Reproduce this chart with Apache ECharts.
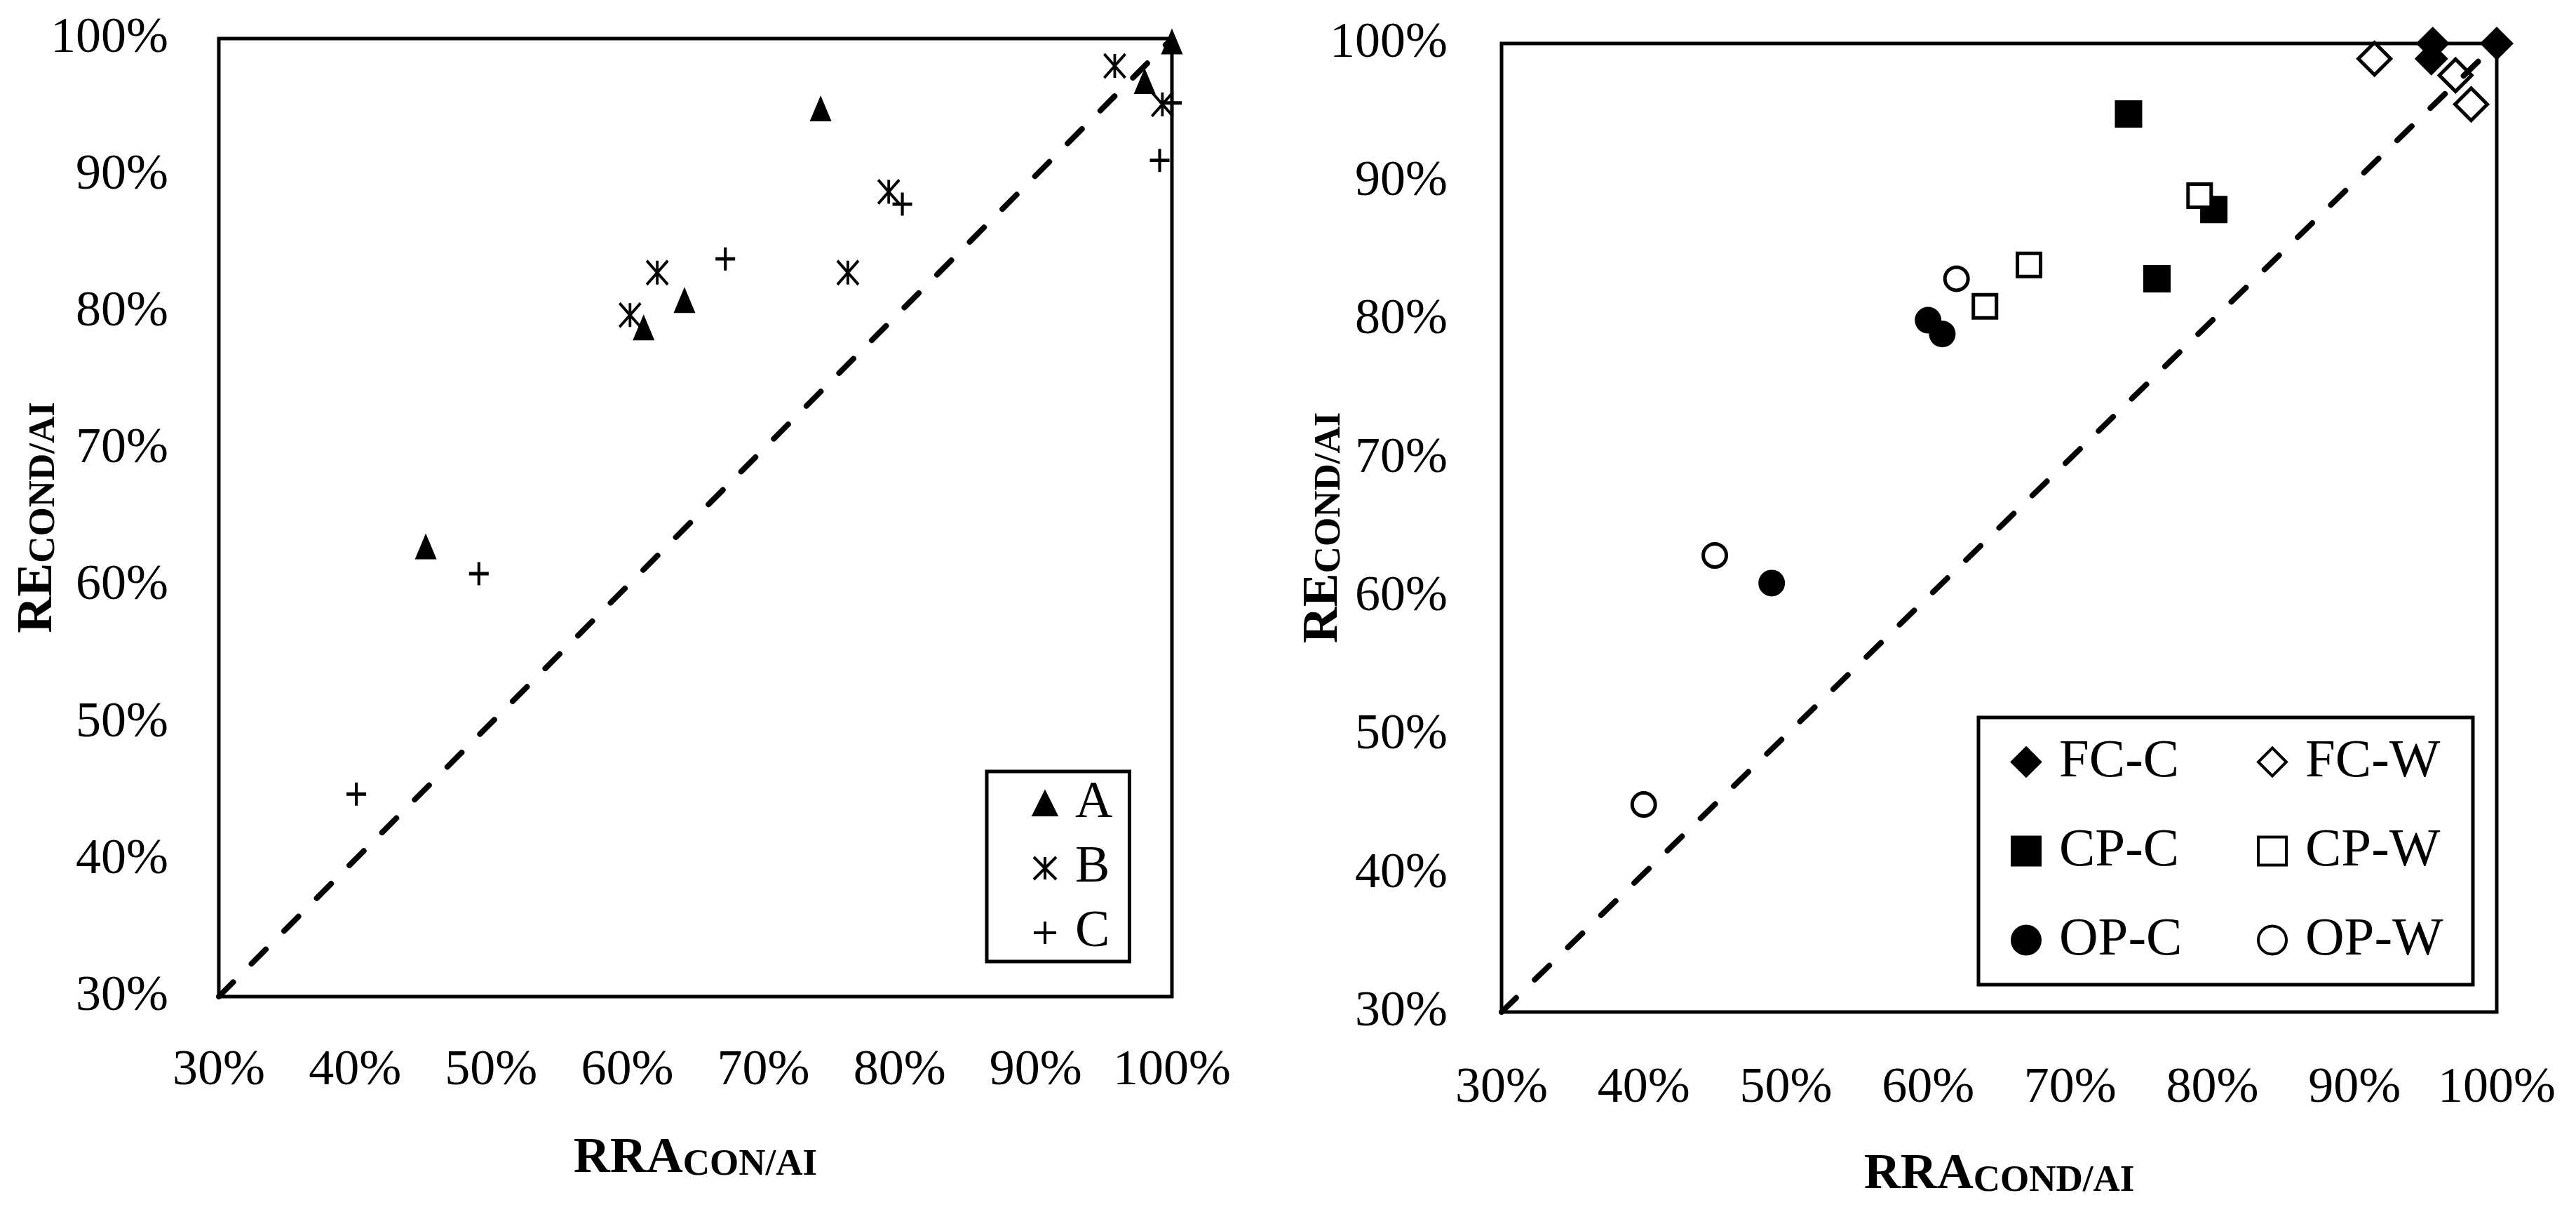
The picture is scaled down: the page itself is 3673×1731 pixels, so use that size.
<!DOCTYPE html>
<html>
<head>
<meta charset="utf-8">
<script src="https://cdn.jsdelivr.net/npm/echarts@6/dist/echarts.min.js"></script>
<style>
html,body{margin:0;padding:0;background:#fff;}
#chart{width:3673px;height:1731px;}
</style>
</head>
<body>
<div id="chart"></div>
<script>
// ---- data ----
const tickValues = [30, 40, 50, 60, 70, 80, 90, 100];
const leftXTitle = ['RRA', 'CON/AI'];
const leftYTitle = ['RE', 'COND/AI'];
const rightXTitle = ['RRA', 'COND/AI'];
const rightYTitle = ['RE', 'COND/AI'];
const leftNames = ['A', 'B', 'C'];
const rightNames = ['FC-C', 'FC-W', 'CP-C', 'CP-W', 'OP-C', 'OP-W'];

const seriesA = [[61.2, 78.9], [64.2, 80.9], [45.2, 62.9], [74.2, 94.9], [98.0, 96.9], [100, 99.8]];
const seriesB = [[60.2, 79.8], [62.2, 82.9], [76.2, 82.9], [79.2, 88.8], [95.8, 98.0], [99.3, 95.2]];
const seriesC = [[40.1, 44.8], [49.1, 60.9], [67.2, 83.9], [80.2, 87.9], [99.1, 91.1], [100, 95.3]];

const seriesFCC = [[95.5, 100], [95.4, 98.9], [100, 100]];
const seriesFCW = [[91.4, 98.9], [97.1, 97.7], [98.2, 95.6]];
const seriesCPC = [[74.1, 94.9], [80.1, 88.0], [76.1, 83.0]];
const seriesCPW = [[79.1, 89.0], [67.1, 84.0], [64.0, 81.0]];
const seriesOPC = [[60.0, 80.0], [61.0, 79.0], [49.0, 61.0]];
const seriesOPW = [[62.0, 83.0], [45.0, 63.0], [40.0, 45.0]];

const diagonal = [[30, 30], [100, 100]];

// ---- styling ----
const FONT = 'Liberation Serif';
const PLUS = 'path://M0,50L100,50M50,0L50,100';
const STAR = 'path://M0,0L100,100M100,0L0,100M50,0L50,100';

function titleRich(mainSize, subSize) {
  return {
    fontFamily: FONT, color: '#000',
    rich: {
      m: { fontFamily: FONT, fontSize: mainSize, fontWeight: 'bold', color: '#000', lineHeight: 72, verticalAlign: 'middle' },
      s: { fontFamily: FONT, fontSize: subSize, fontWeight: 'bold', color: '#000', lineHeight: 32, verticalAlign: 'bottom' }
    }
  };
}
function axis(gridIndex, title, labelMargin, nameGap, isY) {
  const o = {
    type: 'value', gridIndex: gridIndex,
    min: tickValues[0], max: tickValues[tickValues.length - 1], interval: tickValues[1] - tickValues[0],
    axisLine: { show: false }, axisTick: { show: false }, splitLine: { show: false },
    axisLabel: { formatter: v => v + '%', fontFamily: FONT, fontSize: 72, color: '#000', margin: labelMargin },
    name: '{m|' + title[0] + '}{s|' + title[1] + '}',
    nameLocation: 'middle', nameGap: nameGap, nameMoveOverlap: false,
    nameTextStyle: titleRich(72, 53)
  };
  if (isY) o.nameRotate = 90;
  return o;
}
function scatter(name, data, axisIdx, symbol, size, filled, bw) {
  return {
    type: 'scatter', name: name, data: data,
    xAxisIndex: axisIdx, yAxisIndex: axisIdx,
    symbol: symbol, symbolSize: size, clip: false, z: 3,
    itemStyle: filled
      ? { color: '#000', borderColor: '#000', borderWidth: bw || 0, opacity: 1 }
      : { color: '#fff', borderColor: '#000', borderWidth: bw || 5, opacity: 1 },
    emphasis: { disabled: true }
  };
}
function diag(axisIdx) {
  return {
    type: 'line', data: diagonal, xAxisIndex: axisIdx, yAxisIndex: axisIdx,
    symbol: 'none', silent: true, z: 5,
    lineStyle: { color: '#000', width: 8, type: [29, 37], cap: 'round', opacity: 1 }
  };
}

const option = {
  animation: false,
  backgroundColor: '#fff',
  grid: [
    { left: 312, top: 55, width: 1359, height: 1366, show: true, borderColor: '#000', borderWidth: 5, backgroundColor: 'transparent' },
    { left: 2141, top: 62, width: 1419, height: 1381, show: true, borderColor: '#000', borderWidth: 5, backgroundColor: 'transparent' }
  ],
  xAxis: [
    axis(0, leftXTitle, 70, 195, false),
    axis(1, rightXTitle, 73, 196, false)
  ],
  yAxis: [
    axis(0, leftYTitle, 72, 222, true),
    axis(1, rightYTitle, 77, 218, true)
  ],
  legend: [
    {
      orient: 'vertical', left: 1407, top: 1100, padding: [9, 24, 4, 65],
      itemWidth: 32, itemHeight: 32, itemGap: 18, selectedMode: false,
      borderColor: '#000', borderWidth: 5, backgroundColor: '#fff',
      textStyle: { fontFamily: FONT, fontSize: 74, lineHeight: 72, color: '#000', padding: [0, 0, 0, 22] },
      itemStyle: { borderWidth: 4, opacity: 1 },
      data: leftNames
    },
    {
      orient: 'horizontal', left: 2821, top: 1023, width: 660, padding: [25, 7, 25, 46],
      itemWidth: 40, itemHeight: 40, itemGap: 50, selectedMode: false,
      borderColor: '#000', borderWidth: 5, backgroundColor: '#fff',
      textStyle: { fontFamily: FONT, fontSize: 77, lineHeight: 76, width: 232, color: '#000', padding: [0, 0, 0, 22] },
      itemStyle: { borderWidth: 4, opacity: 1 },
      data: rightNames
    }
  ],
  series: [
    scatter(leftNames[0], seriesA, 0, 'triangle', [31, 37], true),
    scatter(leftNames[1], seriesB, 0, STAR, [30, 34], true, 4),
    scatter(leftNames[2], seriesC, 0, PLUS, [28, 33], true, 4.5),
    diag(0),
    scatter(rightNames[0], seriesFCC, 1, 'diamond', [48, 48], true),
    scatter(rightNames[1], seriesFCW, 1, 'diamond', [46, 46], false, 5),
    scatter(rightNames[2], seriesCPC, 1, 'rect', [39, 39], true),
    scatter(rightNames[3], seriesCPW, 1, 'rect', [33, 33], false, 5),
    scatter(rightNames[4], seriesOPC, 1, 'circle', [38, 38], true),
    scatter(rightNames[5], seriesOPW, 1, 'circle', [33, 33], false, 5),
    diag(1)
  ]
};

const chart = echarts.init(document.getElementById('chart'), null, { renderer: 'canvas' });
chart.setOption(option);
</script>
</body>
</html>
